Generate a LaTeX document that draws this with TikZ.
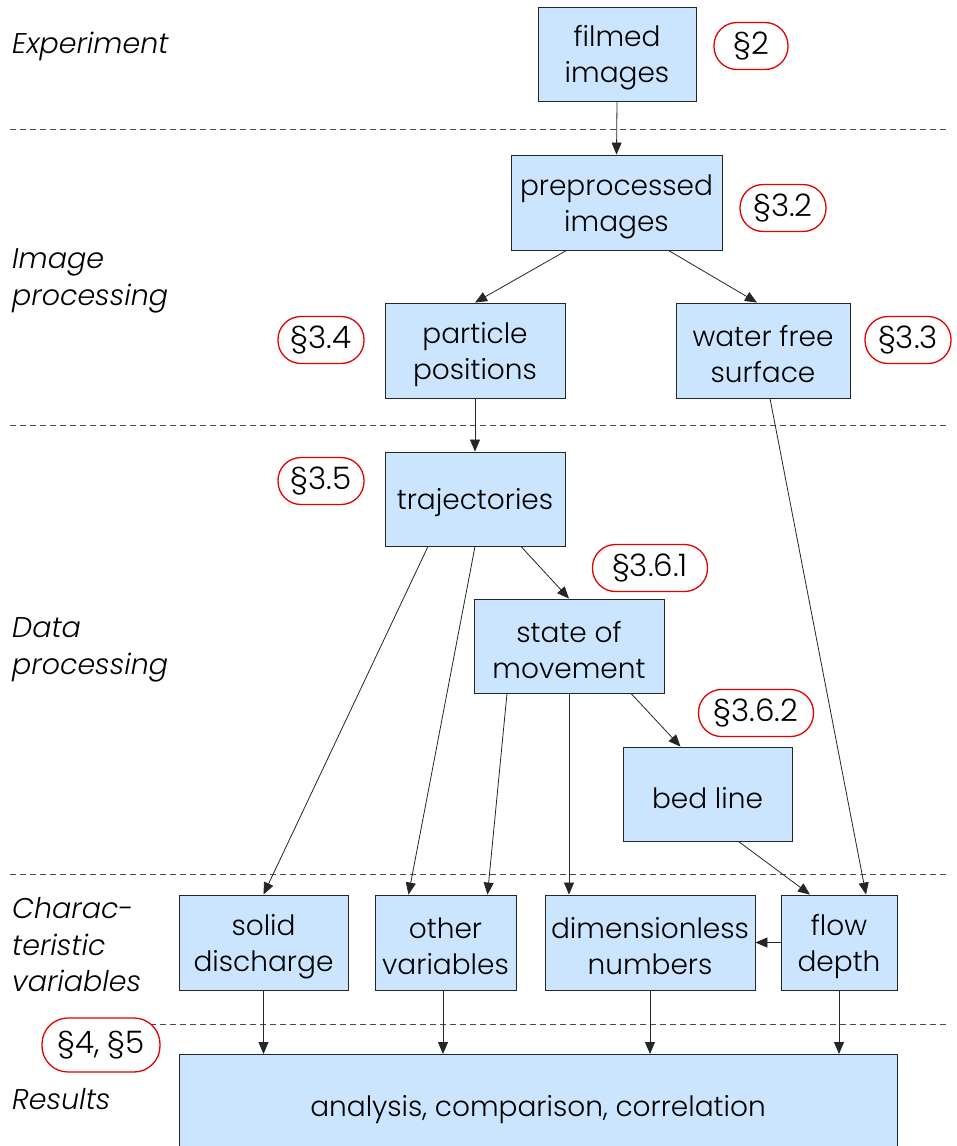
\documentclass[tikz,border=0pt]{standalone}
\usepackage{fontspec}
\setmainfont{Poppins Light}
\usetikzlibrary{arrows.meta,calc}
\definecolor{boxblue}{RGB}{204,229,255}
\definecolor{badgered}{RGB}{230,0,0}
\tikzset{
  boxbase/.style={draw=black!85, fill=boxblue, line width=0.9pt, align=center, inner sep=0pt,
    font=\fontsize{28}{36}\selectfont},
  box/.style={boxbase, execute at begin node={\rule{0pt}{65pt}}},
  boxone/.style={boxbase, execute at begin node={\rule{0pt}{29pt}}},
  boxrect/.style={draw=black!85, fill=boxblue, line width=0.9pt},
  badge/.style={draw=badgered, fill=white, line width=1.3pt, rounded corners=23pt, inner sep=0pt,
    font=\fontsize{31}{34}\selectfont},
  lab/.style={anchor=west, align=left, inner sep=0pt, font=\fontsize{28.5}{36.5}\selectfont\itshape},
  conn/.style={draw=black!85, line width=0.8pt, -{Triangle[length=12pt,width=10pt]}},
  sep/.style={draw=black!70, line width=0.9pt, dash pattern=on 6pt off 4pt},
}
\begin{document}
\begin{tikzpicture}[x=1pt,y=-1pt]
\clip (0,0) rectangle (956,1146);
\fill[white] (0,0) rectangle (956,1146);
% separators
\draw[sep] (10,129) -- (950,129);
\draw[sep] (10,425) -- (950,425);
\draw[sep] (10,874) -- (950,874);
\draw[sep] (150,1024) -- (950,1024);
% stage labels
\node[lab] (lexp) at (12,46) {Experiment};
\node[lab] (limg) at (12,281) {Image\\processing};
\node[lab] (ldat) at (12,650) {Data\\processing};
\node[lab] (lchr) at (12,945) {Charac-\\teristic\\variables};
\node[lab] (lres) at (12,1099) {Results};
% boxes
\node[box, minimum width=158pt, minimum height=94pt] (film) at (617,54) {filmed\\images};
\node[box, minimum width=211pt, minimum height=95pt] (pre) at (616.5,202.5) {preprocessed\\images};
\node[box, minimum width=180pt, minimum height=95pt] (part) at (475,350.5) {particle\\positions};
\node[box, minimum width=174pt, minimum height=95pt] (water) at (763,350.5) {water free\\surface};
\node[boxone, minimum width=180pt, minimum height=94pt] (traj) at (475,499) {trajectories};
\node[box, minimum width=190pt, minimum height=94pt] (state) at (569,646) {state of\\movement};
\node[boxone, minimum width=169pt, minimum height=94pt] (bed) at (707.5,794) {bed line};
\node[box, minimum width=169pt, minimum height=95pt] (solid) at (263.5,942.5) {solid\\discharge};
\node[box, minimum width=141pt, minimum height=95pt] (other) at (445.5,942.5) {other\\variables};
\node[box, minimum width=210pt, minimum height=95pt] (dimless) at (650,942.5) {dimensionless\\numbers};
\node[box, minimum width=116pt, minimum height=95pt] (flow) at (839,942.5) {flow\\depth};
\draw[boxrect] (179,1054) rectangle (897,1150);
\node[boxone, draw=none, fill=none] (res) at (538,1106) {analysis, comparison, correlation};
% badges
\node[badge, minimum width=74pt, minimum height=47pt] (b2) at (751,46) {§2};
\node[badge, minimum width=86pt, minimum height=47pt] (b32) at (783,208) {§3.2};
\node[badge, minimum width=86pt, minimum height=47pt] (b34) at (321,340) {§3.4};
\node[badge, minimum width=86pt, minimum height=47pt] (b33) at (908,340) {§3.3};
\node[badge, minimum width=86pt, minimum height=47pt] (b35) at (321,481) {§3.5};
\node[badge, minimum width=115pt, minimum height=47pt] (b361) at (650,568) {§3.6.1};
\node[badge, minimum width=115pt, minimum height=47pt] (b362) at (756,713) {§3.6.2};
\node[badge, minimum width=118pt, minimum height=54pt, rounded corners=26pt] (b45) at (101,1045) {§4, §5};
% connectors
\draw[conn] (film.south) -- (pre.north);
\draw[conn] ($(pre.south)+(-50,0)$) -- ($(part.north)$);
\draw[conn] ($(pre.south)+(52,0)$) -- ($(water.north)+(-6,0)$);
\draw[conn] (part.south) -- (traj.north);
\draw[conn] ($(traj.south)+(46,0)$) -- (state.north);
\draw[conn] ($(traj.south)+(-47,0)$) -- (solid.north);
\draw[conn] (traj.south) -- ($(other.north)+(-37,0)$);
\draw[conn] ($(state.south)+(-62,0)$) -- ($(other.north)+(42,0)$);
\draw[conn] (state.south) -- ($(dimless.north)+(-81,0)$);
\draw[conn] ($(state.south)+(62,0)$) -- ($(bed.north)+(-27,0)$);
\draw[conn] ($(bed.south)+(31,0)$) -- ($(flow.north)+(-29,0)$);
\draw[conn] ($(water.south)+(7,0)$) -- ($(flow.north)+(27,0)$);
\draw[conn] (flow.west) -- (dimless.east);
\coordinate (r1) at (263.5,1054);
\coordinate (r2) at (443,1054);
\coordinate (r3) at (650,1054);
\coordinate (r4) at (839,1054);
\draw[conn] (solid.south) -- (r1);
\draw[conn] ($(other.south)+(-2.5,0)$) -- (r2);
\draw[conn] (dimless.south) -- (r3);
\draw[conn] (flow.south) -- (r4);
\end{tikzpicture}
\end{document}
